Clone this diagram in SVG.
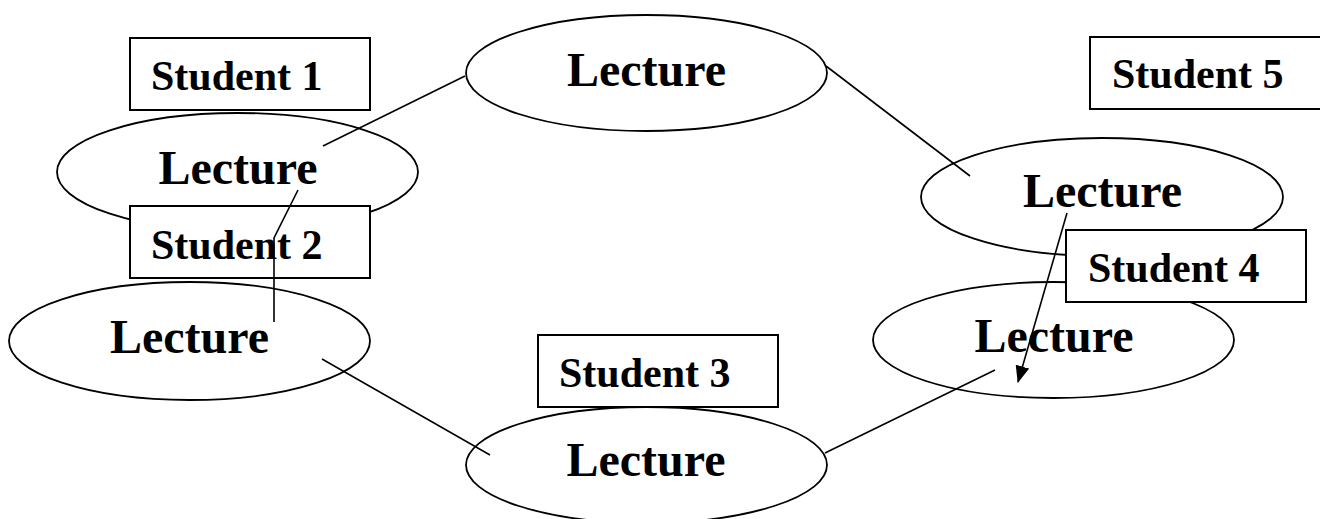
<svg xmlns="http://www.w3.org/2000/svg" width="1320" height="519" viewBox="0 0 1320 519">
<style>
.ell{fill:#fff;stroke:#000;stroke-width:1.8}
.box{fill:#fff;stroke:#000;stroke-width:2}
.lec{font-family:"Liberation Serif","Times New Roman",serif;font-weight:bold;font-size:48px;text-anchor:middle;fill:#000}
.stu{font-family:"Liberation Serif","Times New Roman",serif;font-weight:bold;font-size:42px;fill:#000}
.conn{fill:none;stroke:#000;stroke-width:1.6}
</style>
<defs>
<marker id="arr" markerWidth="18" markerHeight="14" refX="16" refY="7" orient="auto" markerUnits="userSpaceOnUse">
<path d="M0,0 L17,7 L0,14 Z" fill="#000"/>
</marker>
</defs>
<rect width="1320" height="519" fill="#fff"/>
<g id="lecture-top"><ellipse class="ell" cx="646.5" cy="73" rx="180.5" ry="58"/><text class="lec" x="646.5" y="86">Lecture</text></g>
<g id="lecture-left-upper"><ellipse class="ell" cx="237.5" cy="172" rx="180.5" ry="59"/><text class="lec" x="238" y="184">Lecture</text></g>
<g id="lecture-left-lower"><ellipse class="ell" cx="189.5" cy="341" rx="180.5" ry="59"/><text class="lec" x="189.5" y="353">Lecture</text></g>
<g id="lecture-bottom"><ellipse class="ell" cx="646.5" cy="465" rx="180.5" ry="58"/><text class="lec" x="646" y="476">Lecture</text></g>
<g id="lecture-right-upper"><ellipse class="ell" cx="1102" cy="197" rx="181" ry="59"/><text class="lec" x="1102.5" y="207">Lecture</text></g>
<g id="lecture-right-lower"><ellipse class="ell" cx="1053.5" cy="340" rx="180.5" ry="58"/><text class="lec" x="1054" y="352">Lecture</text></g>
<g id="student-1"><rect class="box" x="130" y="38" width="240" height="72"/><text class="stu" x="151" y="90">Student 1</text></g>
<g id="student-2"><rect class="box" x="130" y="206" width="240" height="72"/><text class="stu" x="151" y="259">Student 2</text></g>
<g id="student-3"><rect class="box" x="538" y="335" width="240" height="72"/><text class="stu" x="559" y="387">Student 3</text></g>
<g id="student-4"><rect class="box" x="1066" y="230" width="240" height="72"/><text class="stu" x="1088" y="282">Student 4</text></g>
<g id="student-5"><rect class="box" x="1090" y="37" width="240" height="72"/><text class="stu" x="1112" y="88">Student 5</text></g>
<g id="connectors">
<line class="conn" x1="323" y1="146" x2="465" y2="76"/>
<polyline class="conn" points="298,190 274,238 274,322"/>
<line class="conn" x1="322" y1="359" x2="490" y2="455"/>
<line class="conn" x1="825" y1="453" x2="995" y2="370"/>
<line class="conn" x1="826" y1="66" x2="970" y2="176"/>
<line class="conn" x1="1067" y1="213" x2="1018" y2="382" marker-end="url(#arr)"/>
</g>
</svg>
